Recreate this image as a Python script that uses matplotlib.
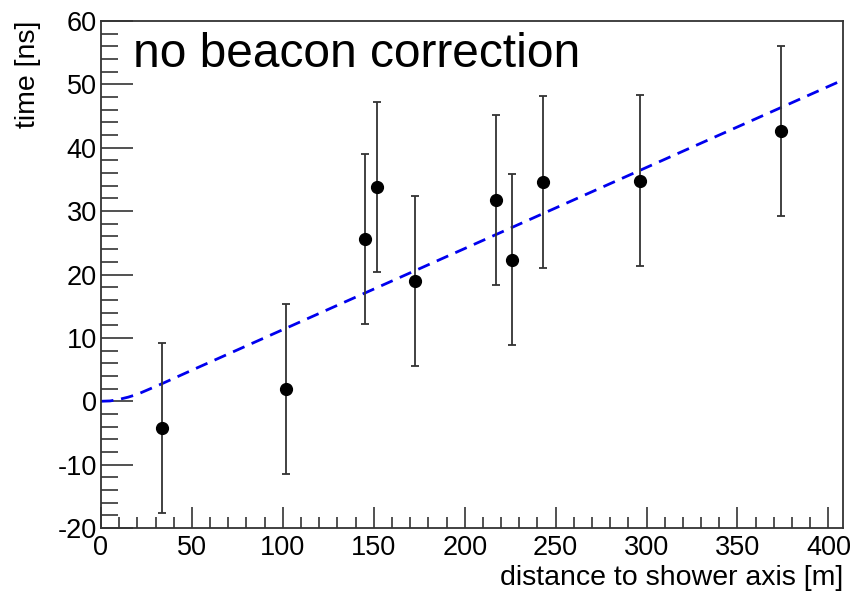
import numpy as np
import matplotlib
matplotlib.use("Agg")
import matplotlib.pyplot as plt
from matplotlib.ticker import MultipleLocator

plt.rcParams['font.family'] = ['Liberation Sans', 'DejaVu Sans']
plt.rcParams['axes.unicode_minus'] = False

# measured antenna timings
distance = [33.6, 101.8, 145.3, 151.9, 172.8, 217.3, 226.0, 243.2, 296.6, 374.0]
time_ns = [-4.2, 2.0, 25.6, 33.8, 19.0, 31.8, 22.3, 34.6, 34.8, 42.6]
time_err = [13.4, 13.4, 13.4, 13.4, 13.4, 13.4, 13.5, 13.5, 13.5, 13.4]

# fitted shower front
fit_x = [0, 5, 10, 15, 20, 33, 50, 100, 200, 300, 408]
fit_y = [0.0, 0.05, 0.3, 0.65, 1.1, 2.7, 4.9, 11.3, 24.1, 36.9, 50.7]

fig = plt.figure(figsize=(8.52, 5.92), dpi=100)
ax = fig.add_axes([0.1185, 0.1081, 0.8709, 0.8564])

ax.plot(fit_x, fit_y, color='#0000ee', lw=2, dashes=(4.5, 2.8), zorder=2)
ax.errorbar(distance, time_ns, yerr=time_err, fmt='o', color='black',
            ecolor='#333333', elinewidth=1.3, capsize=3, capthick=1.3,
            markersize=8.5, zorder=3)

ax.set_xlim(0, 408)
ax.set_ylim(-20, 60)

ax.xaxis.set_major_locator(MultipleLocator(50))
ax.xaxis.set_minor_locator(MultipleLocator(10))
ax.yaxis.set_major_locator(MultipleLocator(10))
ax.yaxis.set_minor_locator(MultipleLocator(2))

ax.tick_params(axis='both', which='both', direction='in', color='#333333',
               width=1.2, labelsize=19.5, top=False, right=False)
ax.tick_params(axis='x', which='major', length=15, pad=5)
ax.tick_params(axis='x', which='minor', length=8)
ax.tick_params(axis='y', which='major', length=23, pad=3)
ax.tick_params(axis='y', which='minor', length=12)

for s in ax.spines.values():
    s.set_color('#333333')
    s.set_linewidth(1.3)

ax.set_xlabel('distance to shower axis [m]', fontsize=20.5, loc='right', labelpad=3)
ax.set_ylabel('time [ns]', fontsize=20.5, loc='top', labelpad=12)

ax.text(0.043, 0.978, 'no beacon correction', transform=ax.transAxes,
        fontsize=34.5, va='top', ha='left')

fig.savefig('out.png', dpi=100)
